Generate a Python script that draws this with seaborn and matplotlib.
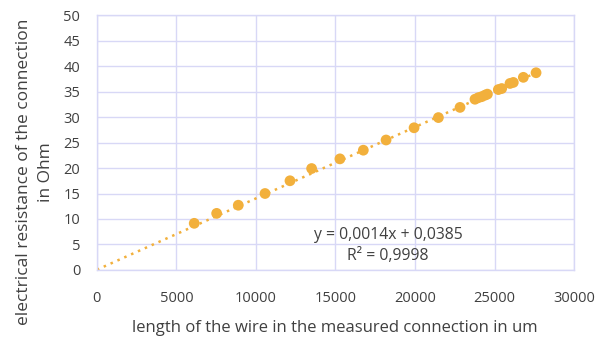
import numpy as np
import pandas as pd
import seaborn as sns
import matplotlib.pyplot as plt

# measured points
length_um = [6120, 7530, 8890, 10570, 12140, 13500, 15280, 16750, 18180, 19940,
             21470, 22830, 23770, 23980, 24190, 24400, 24550, 25240, 25450,
             25970, 26180, 26810, 27610]
resistance_ohm = [9.15, 11.1, 12.7, 15.0, 17.5, 19.9, 21.8, 23.5, 25.5, 27.9,
                  29.9, 31.9, 33.5, 33.8, 34.0, 34.3, 34.5, 35.4, 35.6,
                  36.6, 36.8, 37.8, 38.7]
slope = 0.0014
intercept = 0.0385
x_ticks = [0, 5000, 10000, 15000, 20000, 25000, 30000]
y_ticks = [0, 5, 10, 15, 20, 25, 30, 35, 40, 45, 50]

df = pd.DataFrame({'length': length_um, 'resistance': resistance_ohm})

sns.set_theme(style='white')
plt.rcParams['font.family'] = ['Open Sans', 'DejaVu Sans']

orange = '#F2B03C'
grid_c = '#D8D8F6'
text_c = '#404040'

fig = plt.figure(figsize=(5.98, 3.37), dpi=100)
ax = fig.add_axes([0.162, 0.199, 0.798, 0.756])

# trendline
fit_x = np.array([0, max(length_um)])
sns.lineplot(x=fit_x, y=slope * fit_x + intercept, ax=ax, color=orange,
             linestyle=(0, (1, 2)), linewidth=1.8, zorder=2)

sns.scatterplot(data=df, x='length', y='resistance', ax=ax, color=orange,
                s=60, edgecolor='none', zorder=3)

ax.set_xlim(0, 30000)
ax.set_ylim(0, 50)
ax.set_xticks(x_ticks)
ax.set_yticks(y_ticks)
ax.grid(True, color=grid_c, linewidth=1)
for sp in ax.spines.values():
    sp.set_color(grid_c)
    sp.set_linewidth(1)
ax.tick_params(length=0, labelsize=10.5, colors=text_c)
ax.tick_params(axis='x', pad=15)
ax.tick_params(axis='y', pad=12)
ax.set_xlabel('')
ax.set_ylabel('')

# axis titles placed like the Excel chart
fig.text(335 / 598, 1 - 328 / 337,
         'length of the wire in the measured connection in um',
         fontsize=12, color=text_c, ha='center', va='center')
fig.text(35 / 598, 1 - 172 / 337,
         'electrical resistance of the connection\nin Ohm',
         fontsize=12.5, color=text_c, ha='center', va='center',
         rotation=90, linespacing=1.5, multialignment='center')

ax.text(18300, 6.8, 'y = 0,0014x + 0,0385', fontsize=11.3, color=text_c,
        ha='center', va='center')
ax.text(18300, 2.7, 'R² = 0,9998', fontsize=11.3, color=text_c,
        ha='center', va='center')

fig.savefig('out.png', dpi=100)
